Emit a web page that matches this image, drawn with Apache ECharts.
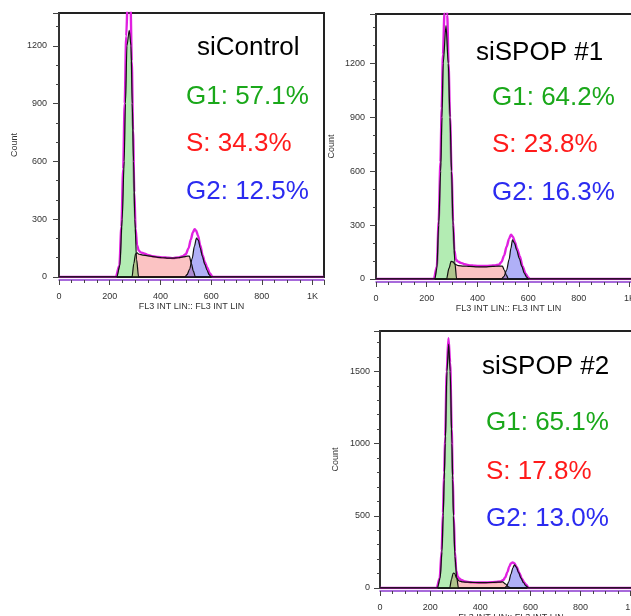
<!DOCTYPE html>
<html>
<head>
<meta charset="UTF-8">
<title>Cell cycle histograms</title>
<style>
  html, body { margin: 0; padding: 0; background: #fff; }
  #chart { width: 631px; height: 616px; }
</style>
</head>
<body>
<div id="chart"></div>
<script src="https://cdn.jsdelivr.net/npm/echarts@6/dist/echarts.min.js"></script>
<script>
// labels
var titles = ['siControl', 'siSPOP #1', 'siSPOP #2'];
var g1Pct = ['G1: 57.1%', 'G1: 64.2%', 'G1: 65.1%'];
var sPct = ['S: 34.3%', 'S: 23.8%', 'S: 17.8%'];
var g2Pct = ['G2: 12.5%', 'G2: 16.3%', 'G2: 13.0%'];
var xName = 'FL3 INT LIN:: FL3 INT LIN';
var yName = 'Count';

// siControl, [channel, count]
var ctrlData = [[0,0],[224,0],[238,60],[246,260],[253,560],[259,900],[265,1250],[271,1440],[277,1500],[282,1420],[287,1120],[292,760],[297,440],[302,250],[308,165],[314,138],[322,128],[335,122],[350,115],[370,108],[390,104],[410,102],[430,100],[450,98],[470,102],[488,108],[500,118],[511,150],[520,195],[528,232],[535,248],[541,240],[548,215],[557,165],[566,115],[575,78],[584,50],[595,18],[607,0],[1045,0]];
var ctrlG1 = [[0,0],[228,0],[240,60],[249,300],[257,600],[262,900],[268,1200],[277,1280],[284,1200],[289,900],[294,600],[299,300],[306,90],[314,0],[1045,0]];
var ctrlS = [[0,0],[288,0],[295,70],[302,120],[308,125],[316,118],[330,114],[350,110],[370,106],[390,102],[410,100],[430,98],[450,98],[470,100],[490,104],[505,108],[514,108],[522,70],[530,30],[538,0],[1045,0]];
var ctrlG2 = [[0,0],[496,0],[505,12],[515,40],[525,95],[534,160],[542,202],[550,190],[557,150],[566,105],[575,65],[584,35],[592,12],[600,0],[1045,0]];

// siSPOP #1
var sp1Data = [[0,0],[228,0],[240,70],[247,320],[254,650],[259,950],[264,1250],[270,1480],[276,1560],[281,1470],[286,1200],[292,900],[298,600],[304,320],[309,160],[315,110],[322,98],[335,90],[350,82],[370,76],[390,74],[410,72],[430,72],[450,74],[470,76],[485,80],[495,95],[505,130],[515,180],[525,225],[532,246],[540,235],[548,205],[556,170],[567,127],[578,70],[590,30],[600,8],[607,0],[1045,0]];
var sp1G1 = [[0,0],[232,0],[240,60],[247,300],[255,600],[260,900],[265,1200],[276,1410],[285,1200],[292,900],[298,600],[304,300],[311,90],[318,0],[1045,0]];
var sp1S = [[0,0],[278,0],[288,60],[296,98],[304,95],[312,82],[325,74],[345,72],[370,70],[400,68],[430,68],[460,70],[485,72],[498,72],[506,50],[514,22],[522,0],[1045,0]];
var sp1G2 = [[0,0],[495,0],[505,15],[515,50],[525,110],[532,170],[538,218],[546,200],[555,160],[565,115],[575,70],[585,32],[594,10],[601,0],[1045,0]];

// siSPOP #2
var sp2Data = [[0,0],[226,0],[238,70],[246,260],[251,520],[256,800],[260,1050],[266,1500],[273,1730],[280,1560],[286,1100],[290,780],[294,500],[299,250],[304,120],[310,78],[316,66],[325,55],[340,45],[360,40],[380,38],[400,38],[420,38],[440,40],[460,42],[480,45],[492,55],[500,75],[508,110],[516,150],[522,170],[529,177],[536,172],[545,145],[556,104],[566,65],[575,38],[583,22],[593,0],[1045,0]];
var sp2G1 = [[0,0],[229,0],[240,70],[247,250],[252,500],[256,750],[260,1000],[267,1500],[274,1690],[280,1500],[287,1000],[290,750],[293,500],[299,220],[306,70],[313,0],[1045,0]];
var sp2S = [[0,0],[278,0],[285,60],[292,104],[298,100],[305,70],[315,50],[330,42],[350,40],[380,38],[410,37],[440,38],[470,40],[489,42],[500,28],[512,8],[522,0],[1045,0]];
var sp2G2 = [[0,0],[496,0],[505,12],[514,45],[522,95],[530,140],[536,161],[544,145],[552,110],[562,70],[572,38],[582,15],[593,0],[1045,0]];

var panelData = [
  [ctrlData, ctrlG1, ctrlS, ctrlG2],
  [sp1Data, sp1G1, sp1S, sp1G2],
  [sp2Data, sp2G1, sp2S, sp2G2]
];

// layout of each panel (pixels)
var panels = [
  { left: 59, top: 13, width: 265, height: 264, yMax: 1370, yStep: 300, ySplit: 3, yMargin: 12, titleX: 197, titleY: 48, rowX: 186, rowY: [96, 143, 191] },
  { left: 376, top: 14, width: 265, height: 265, yMax: 1475, yStep: 300, ySplit: 3, yMargin: 11, titleX: 476, titleY: 53, rowX: 492, rowY: [97, 144, 192] },
  { left: 380, top: 331, width: 262, height: 257, yMax: 1780, yStep: 500, ySplit: 5, yMargin: 10, titleX: 482, titleY: 367, rowX: 486, rowY: [422, 471, 518] }
];

var grids = [], xAxes = [], yAxes = [], series = [], graphics = [];

panels.forEach(function (p, i) {
  grids.push({
    left: p.left, top: p.top, width: p.width, height: p.height,
    outerBoundsMode: 'none', containLabel: false,
    show: true, borderColor: '#222', borderWidth: 2, backgroundColor: 'transparent'
  });
  xAxes.push({
    gridIndex: i, type: 'value', min: 0, max: 1045, interval: 200, offset: 3,
    name: xName, nameLocation: 'middle', nameGap: 19,
    nameTextStyle: { fontFamily: 'Liberation Sans', fontSize: 9, color: '#333' },
    axisLine: { onZero: false, lineStyle: { color: '#8a3ad0', width: 1.5 } },
    axisTick: { length: 5, lineStyle: { color: '#444' } },
    minorTick: { show: true, splitNumber: 4, length: 3, lineStyle: { color: '#444' } },
    splitLine: { show: false },
    axisLabel: {
      margin: 12, fontFamily: 'Liberation Sans', fontSize: 9, color: '#333',
      formatter: function (v) { return v === 1000 ? '1K' : (v % 200 === 0 ? String(v) : ''); }
    }
  });
  yAxes.push({
    gridIndex: i, type: 'value', min: 0, max: p.yMax, interval: p.yStep,
    name: yName, nameLocation: 'middle', nameGap: 40, nameRotate: 90,
    nameTextStyle: { fontFamily: 'Liberation Sans', fontSize: 9, color: '#333' },
    axisLine: { show: true, lineStyle: { color: '#333', width: 2 } },
    axisTick: { length: 6, lineStyle: { color: '#444' } },
    minorTick: { show: true, splitNumber: p.ySplit, length: 3, lineStyle: { color: '#444' } },
    splitLine: { show: false },
    axisLabel: {
      margin: p.yMargin, fontFamily: 'Liberation Sans', fontSize: 9, color: '#333',
      formatter: function (v) { return v % p.yStep === 0 ? String(v) : ''; }
    }
  });

  var d = panelData[i];
  // measured histogram
  series.push({
    type: 'line', xAxisIndex: i, yAxisIndex: i, data: d[0],
    smooth: 0.3, smoothMonotone: 'x', symbol: 'none', z: 2,
    lineStyle: { color: '#e020e0', width: 2.4 }
  });
  // S, G1, G2 fits
  var fills = [
    [d[2], 'rgba(240,50,50,0.42)'],
    [d[1], 'rgba(40,200,40,0.5)'],
    [d[3], 'rgba(50,50,235,0.55)']
  ];
  fills.forEach(function (f) {
    series.push({
      type: 'line', xAxisIndex: i, yAxisIndex: i, data: f[0],
      smooth: 0.3, smoothMonotone: 'x', symbol: 'none', z: 3,
      lineStyle: { color: '#111', width: 1.2 },
      areaStyle: { color: f[1] }
    });
  });

  var font = '26px "Liberation Sans", Arial, sans-serif';
  graphics.push({ type: 'text', left: p.titleX, top: p.titleY - 13, style: { text: titles[i], font: font, fill: '#000' } });
  graphics.push({ type: 'text', left: p.rowX, top: p.rowY[0] - 12, style: { text: g1Pct[i], font: font, fill: '#1aa81a' } });
  graphics.push({ type: 'text', left: p.rowX, top: p.rowY[1] - 12, style: { text: sPct[i], font: font, fill: '#ff1a1a' } });
  graphics.push({ type: 'text', left: p.rowX, top: p.rowY[2] - 12, style: { text: g2Pct[i], font: font, fill: '#2b2bf0' } });
});

var chart = echarts.init(document.getElementById('chart'), null, { renderer: 'canvas' });
chart.setOption({
  animation: false,
  backgroundColor: '#fff',
  grid: grids,
  xAxis: xAxes,
  yAxis: yAxes,
  series: series,
  graphic: graphics
});
</script>
</body>
</html>
